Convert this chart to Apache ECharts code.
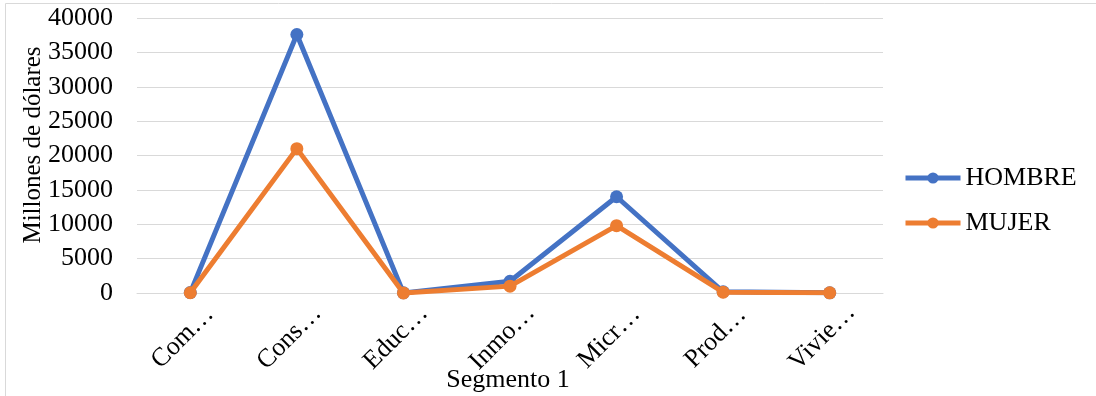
<!DOCTYPE html>
<html>
<head>
<meta charset="utf-8">
<script src="https://cdn.jsdelivr.net/npm/echarts@6/dist/echarts.min.js"></script>
<style>
  html, body { margin: 0; padding: 0; background: #fff; }
  #chart { width: 1096px; height: 396px; }
</style>
</head>
<body>
<div id="chart"></div>
<script>
// Credit portfolio by segment, split by borrower sex (millions of dollars)
const categories = ['Com…', 'Cons…', 'Educ…', 'Inmo…', 'Micr…', 'Prod…', 'Vivie…'];
const hombre = [60, 37600, 20, 1700, 14000, 180, 30];
const mujer  = [40, 21000, 10, 1000, 9800, 120, 20];
const yTicks = { min: 0, max: 40000, interval: 5000 };
const xTitle = 'Segmento 1';
const yTitle = 'Millones de dólares';

const FONT = '"Liberation Serif", "Times New Roman", serif';
const BLUE = '#4472C4';
const ORANGE = '#ED7D31';

const chart = echarts.init(document.getElementById('chart'), null, { renderer: 'canvas' });

chart.setOption({
  animation: false,
  textStyle: { fontFamily: FONT, color: '#000' },
  grid: {
    left: 137, right: 213, top: 18, bottom: 103,
    containLabel: false,
    outerBoundsMode: 'none'
  },
  legend: {
    orient: 'vertical',
    left: 898,
    top: 160,
    itemWidth: 55,
    itemHeight: 14,
    itemGap: 19,
    lineStyle: { width: 5 },
    textStyle: { fontFamily: FONT, fontSize: 26, color: '#000' },
    data: ['HOMBRE', 'MUJER']
  },
  xAxis: {
    type: 'category',
    data: categories,
    boundaryGap: true,
    axisLine: { lineStyle: { color: '#d9d9d9', width: 1 } },
    axisTick: { show: false },
    axisLabel: {
      rotate: 45,
      interval: 0,
      margin: 37,
      align: 'center',
      verticalAlign: 'middle',
      padding: [0, 21, 0, 0],
      fontFamily: FONT,
      fontSize: 26,
      color: '#000'
    }
  },
  yAxis: {
    type: 'value',
    min: yTicks.min,
    max: yTicks.max,
    interval: yTicks.interval,
    axisLine: { show: false },
    axisTick: { show: false },
    splitLine: { lineStyle: { color: '#d9d9d9', width: 1 } },
    axisLabel: {
      margin: 24,
      fontFamily: FONT,
      fontSize: 26,
      color: '#000',
      formatter: (v) => String(v)
    }
  },
  graphic: [
    {
      type: 'rect',
      silent: true,
      shape: { x: 5.5, y: 3.5, width: 1200, height: 500 },
      style: { fill: 'none', stroke: '#d9d9d9', lineWidth: 1 }
    },
    {
      type: 'text',
      x: 33,
      y: 145,
      rotation: Math.PI / 2,
      style: {
        text: yTitle,
        font: '25px ' + FONT,
        fill: '#000',
        align: 'center',
        verticalAlign: 'middle'
      }
    },
    {
      type: 'text',
      x: 508,
      y: 380,
      style: {
        text: xTitle,
        font: '26px ' + FONT,
        fill: '#000',
        align: 'center',
        verticalAlign: 'middle'
      }
    }
  ],
  series: [
    {
      name: 'HOMBRE',
      type: 'line',
      data: hombre,
      symbol: 'circle',
      symbolSize: 13,
      lineStyle: { color: BLUE, width: 5 },
      itemStyle: { color: BLUE },
      z: 2
    },
    {
      name: 'MUJER',
      type: 'line',
      data: mujer,
      symbol: 'circle',
      symbolSize: 13,
      lineStyle: { color: ORANGE, width: 5 },
      itemStyle: { color: ORANGE },
      z: 3
    }
  ]
});
</script>
</body>
</html>
